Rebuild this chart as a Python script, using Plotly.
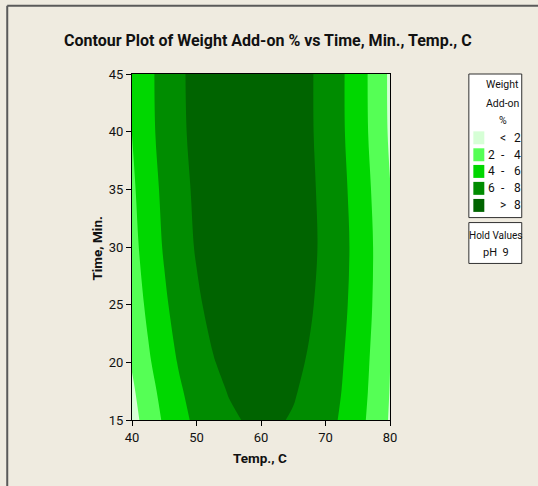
import plotly.graph_objects as go

# ---------------- data ----------------
temp = [40, 42.5, 45, 47.5, 50, 52.5, 55, 57.5, 60, 62.5, 65, 67.5, 70, 72.5, 75, 77.5, 80]
time = [15, 17.5, 20, 25, 30, 35, 40, 45]
weight_addon = [
    [1.27, 2.87, 4.26, 5.44, 6.41, 7.18, 7.73, 8.08, 8.22, 8.15, 7.87, 7.38, 6.68, 5.78, 4.66, 3.34, 1.81],
    [1.68, 3.27, 4.65, 5.82, 6.78, 7.53, 8.08, 8.41, 8.53, 8.44, 8.14, 7.63, 6.92, 5.99, 4.85, 3.50, 1.94],
    [2.17, 3.73, 5.09, 6.24, 7.17, 7.90, 8.42, 8.72, 8.82, 8.71, 8.38, 7.85, 7.11, 6.15, 4.99, 3.62, 2.03],
    [2.85, 4.39, 5.71, 6.83, 7.74, 8.44, 8.92, 9.20, 9.27, 9.12, 8.77, 8.21, 7.44, 6.45, 5.26, 3.86, 2.24],
    [3.37, 4.87, 6.17, 7.26, 8.14, 8.81, 9.26, 9.51, 9.55, 9.38, 9.00, 8.40, 7.60, 6.59, 5.37, 3.93, 2.29],
    [3.67, 5.15, 6.41, 7.47, 8.31, 8.94, 9.37, 9.58, 9.59, 9.38, 8.96, 8.34, 7.50, 6.46, 5.20, 3.74, 2.06],
    [4.02, 5.46, 6.68, 7.69, 8.49, 9.09, 9.47, 9.64, 9.60, 9.35, 8.90, 8.23, 7.35, 6.26, 4.97, 3.46, 1.74],
    [4.11, 5.53, 6.74, 7.75, 8.54, 9.12, 9.50, 9.66, 9.62, 9.36, 8.89, 8.22, 7.33, 6.24, 4.93, 3.41, 1.69],
]
levels = [2, 4, 6, 8]
band_colors = ["#d6ffd6", "#55ff55", "#00d700", "#008c00", "#006400"]
legend_low = ["", "2", "4", "6", ""]
legend_sep = ["<", "-", "-", "-", ">"]
legend_high = ["2", "4", "6", "8", "8"]
legend_title = ["Weight", "Add-on", "%"]
hold_title = "Hold Values"
hold_text = "pH  9"
x_ticks = [40, 50, 60, 70, 80]
y_ticks = [15, 20, 25, 30, 35, 40, 45]
chart_title = "Contour Plot of Weight Add-on % vs Time, Min., Temp., C"
x_title = "Temp., C"
y_title = "Time, Min."

# ---------------- layout helpers ----------------
W, H = 538, 486
PL, PR, PT, PB = 132, 390.5, 73.5, 420.5
BG = "#efebe0"
FONT = "Roboto, Liberation Sans, sans-serif"
TXT = "#111111"


def px(x):
    return (x - PL) / (PR - PL)


def py(y):
    return (PB - y) / (PB - PT)


# step colorscale robust to plotly's fill mapping
bounds = [0, 0.12, 0.32, 0.55, 0.78, 1]
cscale = []
for i, c in enumerate(band_colors):
    cscale.append([bounds[i], c])
    cscale.append([bounds[i + 1], c])

fig = go.Figure()
fig.add_trace(go.Contour(
    x=temp, y=time, z=weight_addon,
    contours=dict(start=levels[0], end=levels[-1], size=levels[1] - levels[0],
                  coloring="fill", showlines=False),
    line=dict(width=0),
    colorscale=cscale, showscale=False, hoverinfo="skip",
))

shapes = []
annotations = []


def ann(x, y, text, size, anchor="center", angle=0):
    annotations.append(dict(x=px(x), y=py(y), xref="paper", yref="paper", text=text, showarrow=False,
                            xanchor=anchor, yanchor="middle", textangle=angle,
                            font=dict(family=FONT, size=size, color=TXT)))


# outer frame lines (top & left)
shapes.append(dict(type="line", xref="paper", yref="paper", x0=px(7), x1=px(540), y0=py(5), y1=py(5),
                   line=dict(color="#5a5a5a", width=2)))
shapes.append(dict(type="line", xref="paper", yref="paper", x0=px(7), x1=px(7), y0=py(5), y1=py(490),
                   line=dict(color="#5a5a5a", width=2)))

# legend boxes
LX0, LX1 = 469.5, 522.5
shapes.append(dict(type="rect", xref="paper", yref="paper", x0=px(LX0), x1=px(LX1), y0=py(73.5), y1=py(217.5),
                   line=dict(color="#303030", width=1), fillcolor="white"))
shapes.append(dict(type="rect", xref="paper", yref="paper", x0=px(LX0), x1=px(LX1), y0=py(222.5), y1=py(263.5),
                   line=dict(color="#303030", width=1), fillcolor="white"))

for txt, yy in zip(legend_title, [84.5, 103, 120.5]):
    ann(503.5, yy, txt, 10.5)

row_y = [137.5, 154.5, 171.2, 188.2, 205.3]
for i in range(5):
    yy = row_y[i]
    shapes.append(dict(type="rect", xref="paper", yref="paper", x0=px(474), x1=px(485),
                       y0=py(yy - 6.5), y1=py(yy + 6.5), line=dict(width=0), fillcolor=band_colors[i]))
    if legend_low[i]:
        ann(491.7, yy, legend_low[i], 12)
    ann(504, yy, legend_sep[i], 12)
    ann(518, yy, legend_high[i], 12)

ann(496, 235, hold_title, 10)
ann(497, 252.7, hold_text, 11)

# titles
ann(268, 40, "<b>" + chart_title + "</b>", 16)
ann(260.5, 458.3, "<b>" + x_title + "</b>", 13.5)
ann(97, 248.5, "<b>" + y_title + "</b>", 13.5, angle=-90)

axis_common = dict(showline=True, linecolor="black", linewidth=1, mirror=True, ticks="outside",
                   ticklen=5, tickcolor="black", showgrid=False, zeroline=False,
                   tickfont=dict(family=FONT, size=13, color=TXT))

fig.update_layout(
    width=W, height=H,
    margin=dict(l=PL, r=W - PR, t=PT, b=H - PB, pad=0),
    paper_bgcolor=BG, plot_bgcolor=BG,
    xaxis=dict(range=[40, 80], tickvals=x_ticks, **axis_common),
    yaxis=dict(range=[15, 45], tickvals=y_ticks, **axis_common),
    shapes=shapes, annotations=annotations, showlegend=False,
)

fig.write_html(
    "out.html",
    config={"displayModeBar": False},
    post_script="document.body.style.margin='0px';document.body.style.background='" + BG + "';",
)
